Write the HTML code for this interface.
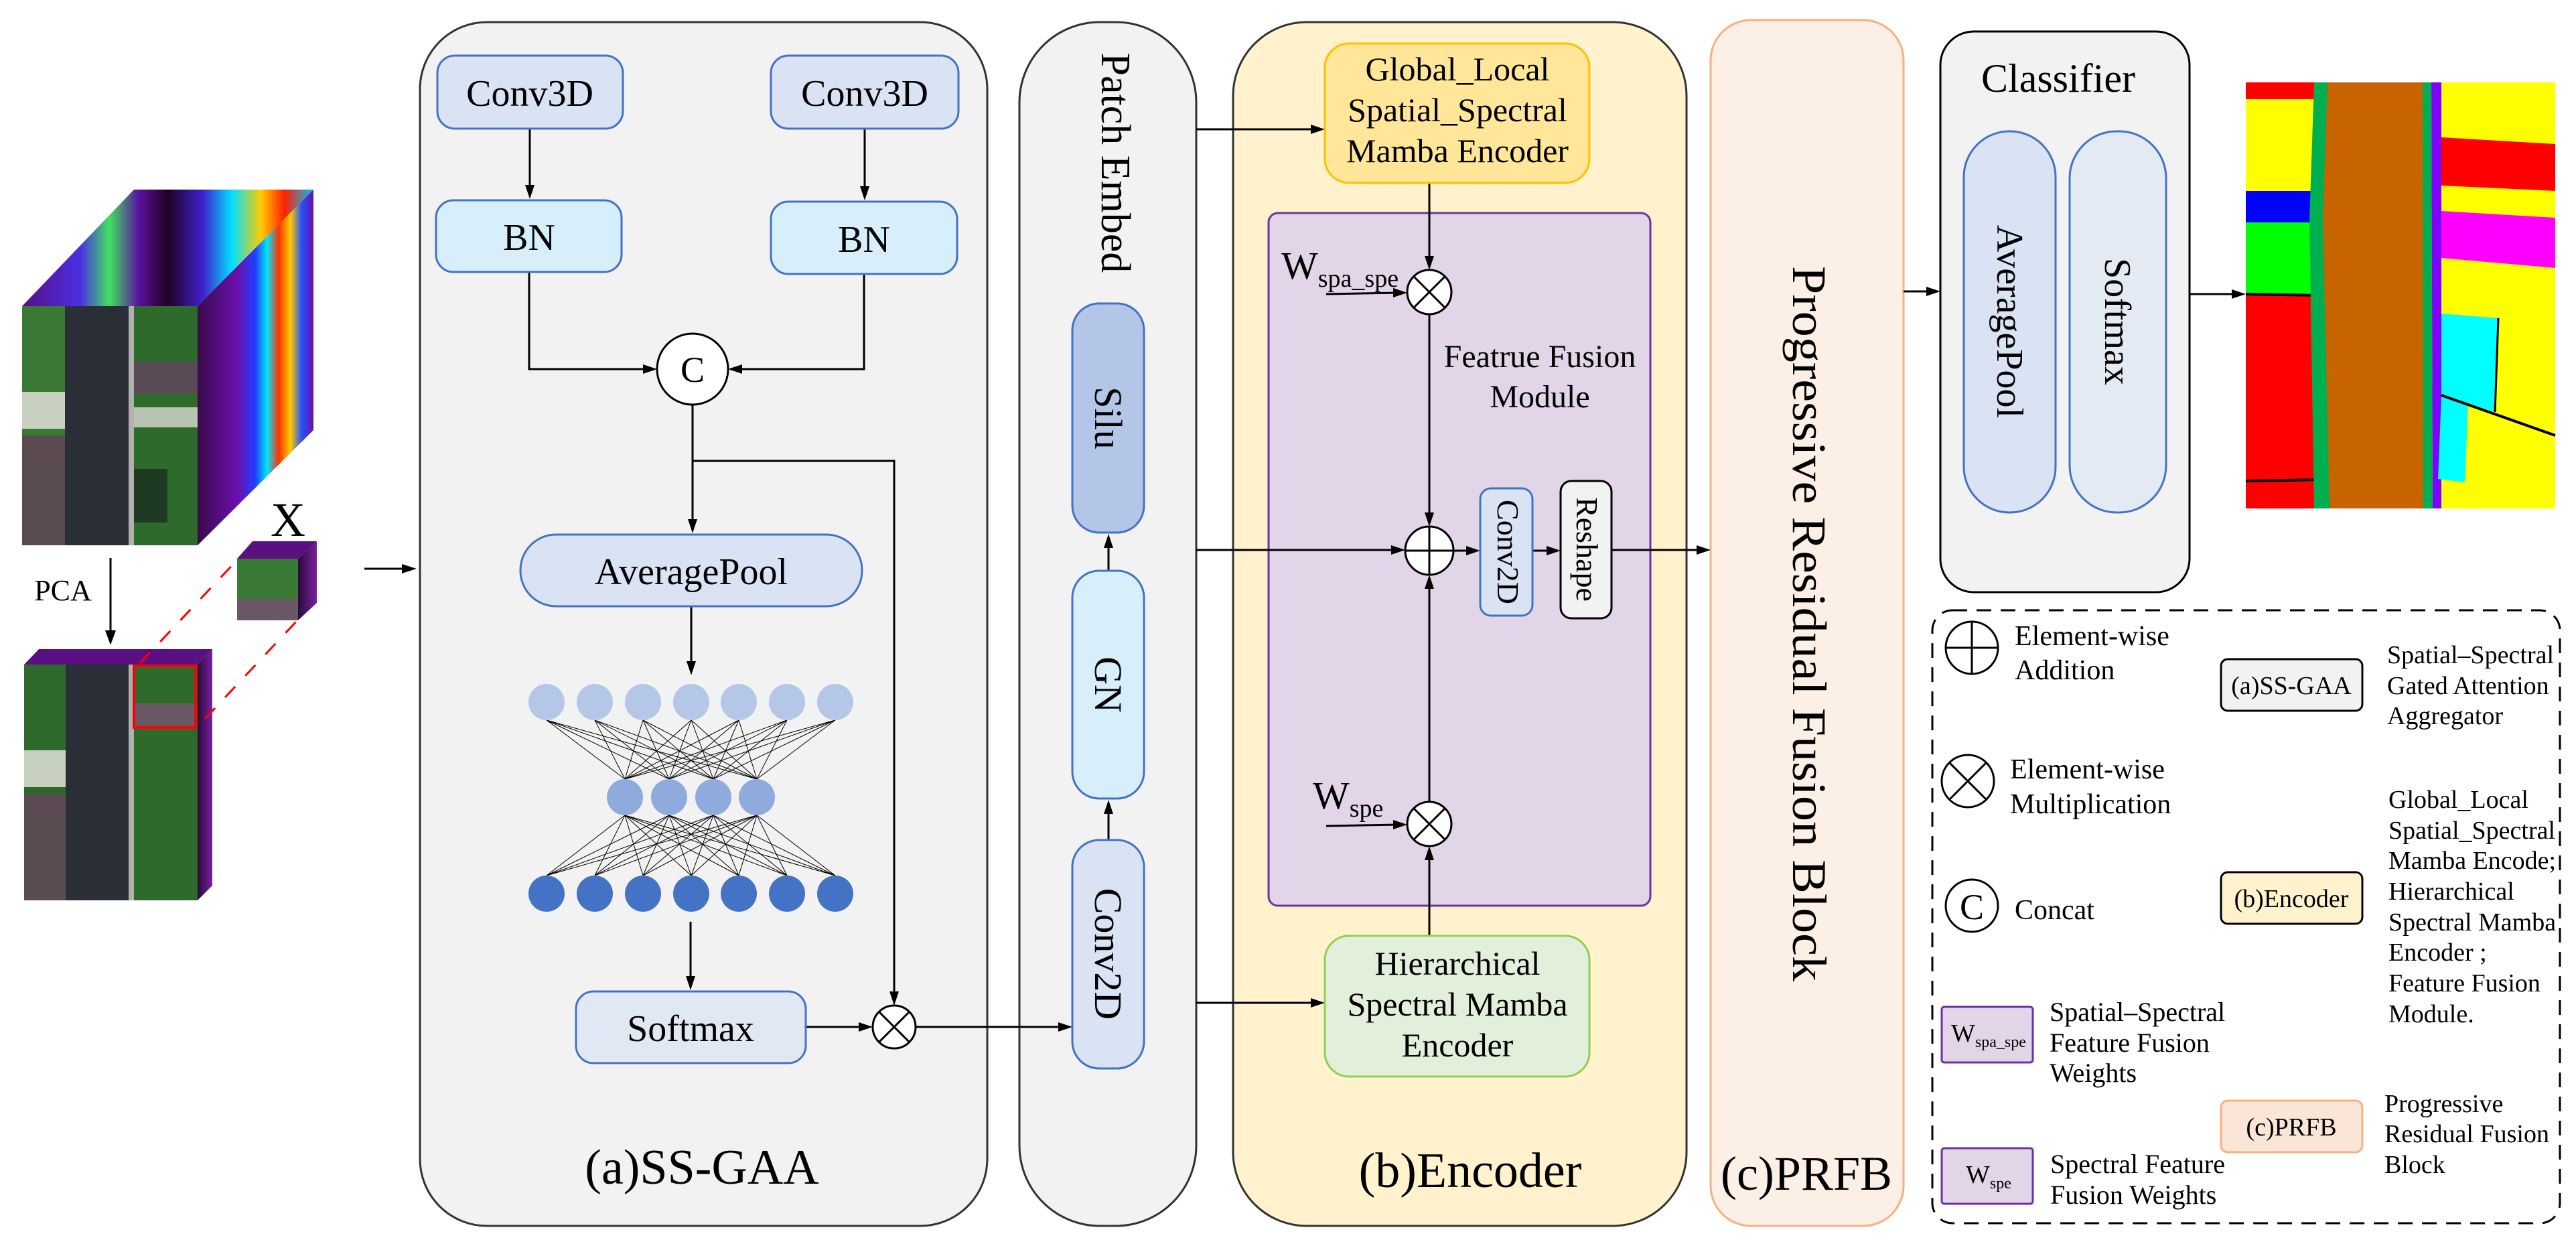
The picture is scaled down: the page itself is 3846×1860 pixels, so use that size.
<!DOCTYPE html>
<html><head><meta charset="utf-8"><style>
html,body{margin:0;padding:0;background:#fff}
svg{display:block}
text{font-family:"Liberation Serif","Times New Roman",serif;fill:#000}
</style></head><body>
<svg width="3846" height="1860" viewBox="0 0 3846 1860" xmlns="http://www.w3.org/2000/svg" font-family="Liberation Serif, serif">
<defs>
<linearGradient id="topg" x1="0" y1="0" x2="1" y2="0">
<stop offset="0" stop-color="#5a0d8a"/><stop offset="0.2" stop-color="#4a30e0"/><stop offset="0.3" stop-color="#40e060"/><stop offset="0.4" stop-color="#5a10a0"/><stop offset="0.5" stop-color="#200020"/><stop offset="0.62" stop-color="#4020d0"/><stop offset="0.72" stop-color="#00e0ff"/><stop offset="0.82" stop-color="#ffcc00"/><stop offset="0.9" stop-color="#ff2000"/><stop offset="1" stop-color="#00c0ff"/></linearGradient>
<linearGradient id="sideg" x1="0" y1="0" x2="1" y2="0">
<stop offset="0" stop-color="#3a0a4a"/><stop offset="0.35" stop-color="#6a10b0"/><stop offset="0.5" stop-color="#2040ff"/><stop offset="0.6" stop-color="#00e8ff"/><stop offset="0.7" stop-color="#ff3000"/><stop offset="0.8" stop-color="#ffcc00"/><stop offset="0.9" stop-color="#2050ff"/><stop offset="1" stop-color="#7010a0"/></linearGradient>
<linearGradient id="sideg2" x1="0" y1="0" x2="1" y2="0">
<stop offset="0" stop-color="#2a0a3a"/><stop offset="1" stop-color="#7a20a0"/></linearGradient>
</defs>

<!-- ===== left images ===== -->
<polygon points="33,457 200,283 468,283 295,457" fill="url(#topg)"/>
<polygon points="295,457 468,283 468,642 295,814" fill="url(#sideg)"/>
<rect x="33" y="457" width="262" height="357" fill="#2e6a2c"/>
<rect x="33" y="457" width="64" height="357" fill="#3a7a34"/>
<rect x="33" y="585" width="64" height="55" fill="#c8d0c0"/>
<rect x="33" y="650" width="64" height="164" fill="#5a4a52"/>
<rect x="97" y="457" width="95" height="357" fill="#2a2e36"/>
<rect x="192" y="457" width="8" height="357" fill="#b0b0b0"/>
<rect x="200" y="540" width="95" height="48" fill="#5a4a55"/>
<rect x="200" y="608" width="95" height="30" fill="#b8c4b0"/>
<rect x="200" y="700" width="50" height="80" fill="#1e3a22"/>
<polygon points="354,834 377,808 473,808 445,834" fill="#5a1080"/>
<polygon points="445,834 473,808 473,900 445,926" fill="url(#sideg2)"/>
<rect x="354" y="834" width="91" height="60" fill="#3a7a34"/>
<rect x="354" y="894" width="91" height="32" fill="#6a5866"/>
<text x="430" y="800" font-size="72" text-anchor="middle">X</text>
<text x="94" y="896" font-size="44" text-anchor="middle">PCA</text>
<polygon points="36,992 58,969 317,969 295,992" fill="#5a1080"/>
<polygon points="295,992 317,969 317,1322 295,1344" fill="url(#sideg2)"/>
<rect x="36" y="992" width="259" height="352" fill="#2e6a2c"/>
<rect x="36" y="1120" width="62" height="55" fill="#c8d0c0"/>
<rect x="36" y="1185" width="62" height="159" fill="#5a4a52"/>
<rect x="98" y="992" width="94" height="352" fill="#2a2e36"/>
<rect x="192" y="992" width="8" height="352" fill="#b0b0b0"/>
<rect x="200" y="1050" width="92" height="36" fill="#6a5866"/>
<rect x="200" y="994" width="92" height="92" fill="none" stroke="#ff0000" stroke-width="4"/>
<line x1="209" y1="990" x2="354" y2="836" stroke="#ff0000" stroke-width="3" stroke-dasharray="22,22"/>
<line x1="306" y1="1073" x2="445" y2="925" stroke="#ff0000" stroke-width="3" stroke-dasharray="22,22"/>

<!-- ===== panels ===== -->
<rect x="627" y="33" width="847" height="1797" rx="100" fill="#f2f2f2" stroke="#333" stroke-width="3"/>
<rect x="1522" y="33" width="264" height="1797" rx="120" fill="#f2f2f2" stroke="#333" stroke-width="3"/>
<rect x="1841" y="33" width="677" height="1797" rx="110" fill="#fff2cc" stroke="#333" stroke-width="3"/>
<rect x="2554" y="30" width="288" height="1800" rx="60" fill="#fcefe6" stroke="#f4b183" stroke-width="3"/>
<rect x="2897" y="47" width="372" height="837" rx="50" fill="#f2f2f2" stroke="#000" stroke-width="3"/>
<rect x="1894" y="318" width="570" height="1034" rx="14" fill="#e1d5e7" stroke="#7030a0" stroke-width="3"/>

<!-- ===== connector lines ===== -->
<g stroke="#000" stroke-width="3" fill="none">
<line x1="544" y1="849" x2="610" y2="849"/>
<line x1="165" y1="833" x2="165" y2="950"/>
<line x1="791" y1="192" x2="791" y2="285"/>
<line x1="1291" y1="192" x2="1291" y2="287"/>
<polyline points="790,406 790,551 970,551"/>
<polyline points="1290,409 1290,551 1098,551"/>
<line x1="1034" y1="604" x2="1034" y2="784"/>
<polyline points="1034,688 1335,688 1335,1490"/>
<line x1="1032" y1="905" x2="1032" y2="996"/>
<line x1="1031" y1="1376" x2="1031" y2="1466"/>
<line x1="1203" y1="1533" x2="1292" y2="1533"/>
<line x1="1367" y1="1533" x2="1590" y2="1533"/>
<line x1="1655" y1="1254" x2="1655" y2="1205"/>
<line x1="1655" y1="852" x2="1655" y2="808"/>
<line x1="1786" y1="193" x2="1966" y2="193"/>
<line x1="1786" y1="821" x2="2087" y2="821"/>
<line x1="1786" y1="1497" x2="1966" y2="1497"/>
<line x1="2134" y1="273" x2="2134" y2="392"/>
<line x1="1980" y1="439" x2="2090" y2="437"/>
<line x1="2134" y1="469" x2="2134" y2="775"/>
<line x1="2170" y1="822" x2="2199" y2="822"/>
<line x1="2288" y1="822" x2="2319" y2="822"/>
<line x1="2406" y1="821" x2="2543" y2="821"/>
<line x1="2134" y1="1197" x2="2134" y2="869"/>
<line x1="1980" y1="1233" x2="2090" y2="1231"/>
<line x1="2134" y1="1397" x2="2134" y2="1274"/>
<line x1="2842" y1="435" x2="2886" y2="435"/>
<line x1="3269" y1="439" x2="3342" y2="439"/>
</g>
<g fill="#000">
<polygon points="600,842 622,849 600,856"/>
<polygon points="157,941 165,963 173,941"/>
<polygon points="784,276 791,297 798,276"/>
<polygon points="1284,278 1291,299 1298,278"/>
<polygon points="960,544 981,551 960,558"/>
<polygon points="1108,544 1087,551 1108,558"/>
<polygon points="1027,775 1034,796 1041,775"/>
<polygon points="1328,1480 1335,1501 1342,1480"/>
<polygon points="1025,987 1032,1008 1039,987"/>
<polygon points="1024,1457 1031,1478 1038,1457"/>
<polygon points="1282,1526 1303,1533 1282,1540"/>
<polygon points="1580,1526 1601,1533 1580,1540"/>
<polygon points="1648,1215 1655,1194 1662,1215"/>
<polygon points="1648,818 1655,797 1662,818"/>
<polygon points="1957,186 1978,193 1957,200"/>
<polygon points="2077,814 2098,821 2077,828"/>
<polygon points="1957,1490 1978,1497 1957,1504"/>
<polygon points="2127,382 2134,403 2141,382"/>
<polygon points="2080,430 2101,437 2080,444"/>
<polygon points="2127,765 2134,786 2141,765"/>
<polygon points="2189,815 2210,822 2189,829"/>
<polygon points="2309,815 2330,822 2309,829"/>
<polygon points="2533,814 2554,821 2533,828"/>
<polygon points="2127,879 2134,858 2141,879"/>
<polygon points="2080,1224 2101,1231 2080,1238"/>
<polygon points="2127,1284 2134,1263 2141,1284"/>
<polygon points="2876,428 2897,435 2876,442"/>
<polygon points="3332,432 3353,439 3332,446"/>
</g>

<!-- ===== (a) SS-GAA ===== -->
<rect x="653" y="83" width="277" height="109" rx="26" fill="#dae3f3" stroke="#4472c4" stroke-width="3"/>
<text x="791" y="158" font-size="56" text-anchor="middle">Conv3D</text>
<rect x="1151" y="83" width="280" height="109" rx="26" fill="#dae3f3" stroke="#4472c4" stroke-width="3"/>
<text x="1291" y="158" font-size="56" text-anchor="middle">Conv3D</text>
<rect x="651" y="299" width="277" height="107" rx="26" fill="#d6effb" stroke="#4472c4" stroke-width="3"/>
<text x="790" y="373" font-size="56" text-anchor="middle">BN</text>
<rect x="1151" y="301" width="278" height="108" rx="26" fill="#d6effb" stroke="#4472c4" stroke-width="3"/>
<text x="1290" y="376" font-size="56" text-anchor="middle">BN</text>
<circle cx="1034" cy="551" r="53" fill="#fff" stroke="#000" stroke-width="3"/>
<text x="1034" y="570" font-size="54" text-anchor="middle">C</text>
<rect x="777" y="798" width="510" height="107" rx="53" fill="#dae3f3" stroke="#4472c4" stroke-width="3"/>
<text x="1032" y="872" font-size="56" text-anchor="middle">AveragePool</text>
<g stroke="#000" stroke-width="1">
<path d="M816,1075L933,1163M816,1075L999,1163M816,1075L1065,1163M816,1075L1130,1163
M888,1075L933,1163M888,1075L999,1163M888,1075L1065,1163M888,1075L1130,1163
M960,1075L933,1163M960,1075L999,1163M960,1075L1065,1163M960,1075L1130,1163
M1032,1075L933,1163M1032,1075L999,1163M1032,1075L1065,1163M1032,1075L1130,1163
M1103,1075L933,1163M1103,1075L999,1163M1103,1075L1065,1163M1103,1075L1130,1163
M1175,1075L933,1163M1175,1075L999,1163M1175,1075L1065,1163M1175,1075L1130,1163
M1247,1075L933,1163M1247,1075L999,1163M1247,1075L1065,1163M1247,1075L1130,1163"/>
<path d="M933,1217L816,1307M933,1217L888,1307M933,1217L960,1307M933,1217L1032,1307M933,1217L1103,1307M933,1217L1175,1307M933,1217L1247,1307
M999,1217L816,1307M999,1217L888,1307M999,1217L960,1307M999,1217L1032,1307M999,1217L1103,1307M999,1217L1175,1307M999,1217L1247,1307
M1065,1217L816,1307M1065,1217L888,1307M1065,1217L960,1307M1065,1217L1032,1307M1065,1217L1103,1307M1065,1217L1175,1307M1065,1217L1247,1307
M1130,1217L816,1307M1130,1217L888,1307M1130,1217L960,1307M1130,1217L1032,1307M1130,1217L1103,1307M1130,1217L1175,1307M1130,1217L1247,1307"/>
</g>
<g fill="#b4c7e7">
<ellipse cx="816" cy="1048" rx="27" ry="27"/><ellipse cx="888" cy="1048" rx="27" ry="27"/><ellipse cx="960" cy="1048" rx="27" ry="27"/><ellipse cx="1032" cy="1048" rx="27" ry="27"/><ellipse cx="1103" cy="1048" rx="27" ry="27"/><ellipse cx="1175" cy="1048" rx="27" ry="27"/><ellipse cx="1247" cy="1048" rx="27" ry="27"/></g>
<g fill="#8faadc">
<ellipse cx="933" cy="1190" rx="27" ry="27"/><ellipse cx="999" cy="1190" rx="27" ry="27"/><ellipse cx="1065" cy="1190" rx="27" ry="27"/><ellipse cx="1130" cy="1190" rx="27" ry="27"/></g>
<g fill="#4472c4">
<ellipse cx="816" cy="1334" rx="27" ry="27"/><ellipse cx="888" cy="1334" rx="27" ry="27"/><ellipse cx="960" cy="1334" rx="27" ry="27"/><ellipse cx="1032" cy="1334" rx="27" ry="27"/><ellipse cx="1103" cy="1334" rx="27" ry="27"/><ellipse cx="1175" cy="1334" rx="27" ry="27"/><ellipse cx="1247" cy="1334" rx="27" ry="27"/></g>
<rect x="860" y="1480" width="343" height="107" rx="26" fill="#e0e8f3" stroke="#4472c4" stroke-width="3"/>
<text x="1031" y="1554" font-size="56" text-anchor="middle">Softmax</text>
<circle cx="1335" cy="1533" r="32" fill="#fff" stroke="#000" stroke-width="3"/>
<path d="M1312,1510L1358,1556M1358,1510L1312,1556" stroke="#000" stroke-width="3"/>
<text x="1048" y="1767" font-size="74" text-anchor="middle">(a)SS-GAA</text>

<!-- ===== Patch Embed ===== -->
<text transform="translate(1645,243) rotate(90)" font-size="62" text-anchor="middle">Patch Embed</text>
<rect x="1601" y="453" width="107" height="342" rx="40" fill="#b4c6e7" stroke="#4472c4" stroke-width="3"/>
<text transform="translate(1635,624) rotate(90)" font-size="58" text-anchor="middle">Silu</text>
<rect x="1601" y="852" width="107" height="340" rx="40" fill="#d6effb" stroke="#4472c4" stroke-width="3"/>
<text transform="translate(1635,1022) rotate(90)" font-size="58" text-anchor="middle">GN</text>
<rect x="1601" y="1254" width="107" height="341" rx="40" fill="#dae3f3" stroke="#4472c4" stroke-width="3"/>
<text transform="translate(1635,1424) rotate(90)" font-size="58" text-anchor="middle">Conv2D</text>

<!-- ===== Encoder ===== -->
<rect x="1978" y="65" width="395" height="208" rx="36" fill="#ffe699" stroke="#ffc000" stroke-width="3"/>
<text x="2176" y="120" font-size="50" text-anchor="middle">Global_Local</text>
<text x="2176" y="181" font-size="50" text-anchor="middle">Spatial_Spectral</text>
<text x="2176" y="242" font-size="50" text-anchor="middle">Mamba Encoder</text>
<text x="1913" y="416" font-size="58">W<tspan font-size="38" dy="12">spa_spe</tspan></text>
<circle cx="2134" cy="436" r="33" fill="#fff" stroke="#000" stroke-width="3"/>
<path d="M2111,413L2157,459M2157,413L2111,459" stroke="#000" stroke-width="3"/>
<text x="2299" y="548" font-size="48" text-anchor="middle">Featrue Fusion</text>
<text x="2299" y="608" font-size="48" text-anchor="middle">Module</text>
<circle cx="2134" cy="822" r="36" fill="#fff" stroke="#000" stroke-width="3"/>
<path d="M2098,822L2170,822M2134,786L2134,858" stroke="#000" stroke-width="3"/>
<rect x="2210" y="729" width="78" height="190" rx="16" fill="#dae3f3" stroke="#4472c4" stroke-width="3"/>
<text transform="translate(2236,824) rotate(90)" font-size="46" text-anchor="middle">Conv2D</text>
<rect x="2330" y="718" width="76" height="205" rx="16" fill="#f2f2f2" stroke="#000" stroke-width="3"/>
<text transform="translate(2354,820) rotate(90)" font-size="46" text-anchor="middle">Reshape</text>
<text x="1960" y="1207" font-size="58">W<tspan font-size="38" dy="12">spe</tspan></text>
<circle cx="2134" cy="1230" r="33" fill="#fff" stroke="#000" stroke-width="3"/>
<path d="M2111,1207L2157,1253M2157,1207L2111,1253" stroke="#000" stroke-width="3"/>
<rect x="1978" y="1397" width="395" height="210" rx="36" fill="#e2efda" stroke="#92d050" stroke-width="3"/>
<text x="2176" y="1455" font-size="50" text-anchor="middle">Hierarchical</text>
<text x="2176" y="1516" font-size="50" text-anchor="middle">Spectral Mamba</text>
<text x="2176" y="1577" font-size="50" text-anchor="middle">Encoder</text>
<text x="2195" y="1772" font-size="74" text-anchor="middle">(b)Encoder</text>

<!-- ===== PRFB ===== -->
<text transform="translate(2677,931) rotate(90)" font-size="72" text-anchor="middle" textLength="1068" lengthAdjust="spacingAndGlyphs">Progressive Residual Fusion Block</text>
<text x="2697" y="1776" font-size="72" text-anchor="middle">(c)PRFB</text>

<!-- ===== Classifier ===== -->
<text x="3073" y="137" font-size="60" text-anchor="middle">Classifier</text>
<rect x="2932" y="196" width="137" height="569" rx="68" fill="#dae3f3" stroke="#4472c4" stroke-width="3"/>
<text transform="translate(2982,480) rotate(90)" font-size="56" text-anchor="middle">AveragePool</text>
<rect x="3090" y="196" width="144" height="569" rx="70" fill="#e4eaf4" stroke="#4472c4" stroke-width="3"/>
<text transform="translate(3143,480) rotate(90)" font-size="56" text-anchor="middle">Softmax</text>

<!-- result map -->
<g>
<rect x="3353" y="123" width="462" height="636" fill="#ffff00"/>
<rect x="3353" y="123" width="115" height="25" fill="#ff0000"/>
<rect x="3353" y="285" width="115" height="47" fill="#0000ff"/>
<rect x="3353" y="332" width="115" height="107" fill="#00ff00"/>
<rect x="3353" y="439" width="115" height="280" fill="#ff0000"/>
<rect x="3353" y="719" width="115" height="40" fill="#ff0000"/>
<line x1="3353" y1="718" x2="3468" y2="716" stroke="#000" stroke-width="4"/>
<line x1="3353" y1="439" x2="3468" y2="441" stroke="#000" stroke-width="4"/>
<polygon points="3470,123 3620,123 3625,759 3460,759" fill="#c86400"/>
<polygon points="3455,123 3475,123 3468,330 3478,759 3455,759 3448,330" fill="#00b050"/>
<polygon points="3617,123 3630,123 3632,759 3618,759" fill="#00b050"/>
<polygon points="3630,123 3645,123 3645,759 3632,759" fill="#8000ff"/>
<polygon points="3645,205 3815,215 3815,285 3645,277" fill="#ff0000"/>
<polygon points="3645,315 3815,325 3815,400 3645,385" fill="#ff00ff"/>
<polygon points="3645,468 3730,475 3725,615 3645,590" fill="#00ffff"/>
<polygon points="3645,590 3685,600 3680,720 3640,715" fill="#00ffff"/>
<line x1="3645" y1="590" x2="3815" y2="650" stroke="#000" stroke-width="4"/>
<line x1="3730" y1="475" x2="3725" y2="615" stroke="#000" stroke-width="3"/>
</g>

<!-- ===== Legend ===== -->
<rect x="2885" y="911" width="937" height="915" rx="30" fill="none" stroke="#000" stroke-width="3" stroke-dasharray="22,14"/>
<circle cx="2944" cy="967" r="39" fill="#fff" stroke="#000" stroke-width="3"/>
<path d="M2905,967L2983,967M2944,928L2944,1006" stroke="#000" stroke-width="3"/>
<text x="3008" y="963" font-size="42">Element-wise</text>
<text x="3008" y="1014" font-size="42">Addition</text>
<circle cx="2938" cy="1166" r="39" fill="#fff" stroke="#000" stroke-width="3"/>
<path d="M2911,1139L2965,1193M2965,1139L2911,1193" stroke="#000" stroke-width="3"/>
<text x="3001" y="1162" font-size="42">Element-wise</text>
<text x="3001" y="1214" font-size="42">Multiplication</text>
<circle cx="2944" cy="1352" r="39" fill="#fff" stroke="#000" stroke-width="3"/>
<text x="2944" y="1372" font-size="54" text-anchor="middle">C</text>
<text x="3008" y="1372" font-size="42">Concat</text>
<rect x="2899" y="1503" width="136" height="83" rx="4" fill="#e1d5e7" stroke="#7030a0" stroke-width="3"/>
<text x="2913" y="1555" font-size="38">W<tspan font-size="24" dy="8">spa_spe</tspan></text>
<text x="3060" y="1524" font-size="40">Spatial–Spectral</text>
<text x="3060" y="1570" font-size="40">Feature Fusion</text>
<text x="3060" y="1615" font-size="40">Weights</text>
<rect x="2899" y="1714" width="136" height="83" rx="4" fill="#e1d5e7" stroke="#7030a0" stroke-width="3"/>
<text x="2935" y="1766" font-size="38">W<tspan font-size="24" dy="8">spe</tspan></text>
<text x="3061" y="1751" font-size="40">Spectral Feature</text>
<text x="3061" y="1797" font-size="40">Fusion Weights</text>
<rect x="3316" y="984" width="211" height="77" rx="10" fill="#f2f2f2" stroke="#000" stroke-width="3"/>
<text x="3421" y="1036" font-size="38" text-anchor="middle">(a)SS-GAA</text>
<text x="3564" y="990" font-size="38">Spatial–Spectral</text>
<text x="3564" y="1036" font-size="38">Gated Attention</text>
<text x="3564" y="1081" font-size="38">Aggregator</text>
<rect x="3316" y="1302" width="211" height="77" rx="10" fill="#fff2cc" stroke="#000" stroke-width="3"/>
<text x="3421" y="1354" font-size="38" text-anchor="middle">(b)Encoder</text>
<text x="3566" y="1206" font-size="38">Global_Local</text>
<text x="3566" y="1252" font-size="38">Spatial_Spectral</text>
<text x="3566" y="1297" font-size="38">Mamba Encode;</text>
<text x="3566" y="1343" font-size="38">Hierarchical</text>
<text x="3566" y="1389" font-size="38">Spectral Mamba</text>
<text x="3566" y="1434" font-size="38">Encoder ;</text>
<text x="3566" y="1480" font-size="38">Feature Fusion</text>
<text x="3566" y="1526" font-size="38">Module.</text>
<rect x="3316" y="1643" width="211" height="77" rx="10" fill="#fbe5d6" stroke="#f4b183" stroke-width="3"/>
<text x="3421" y="1695" font-size="38" text-anchor="middle">(c)PRFB</text>
<text x="3560" y="1660" font-size="38">Progressive</text>
<text x="3560" y="1705" font-size="38">Residual Fusion</text>
<text x="3560" y="1751" font-size="38">Block</text>
</svg>
</body></html>
